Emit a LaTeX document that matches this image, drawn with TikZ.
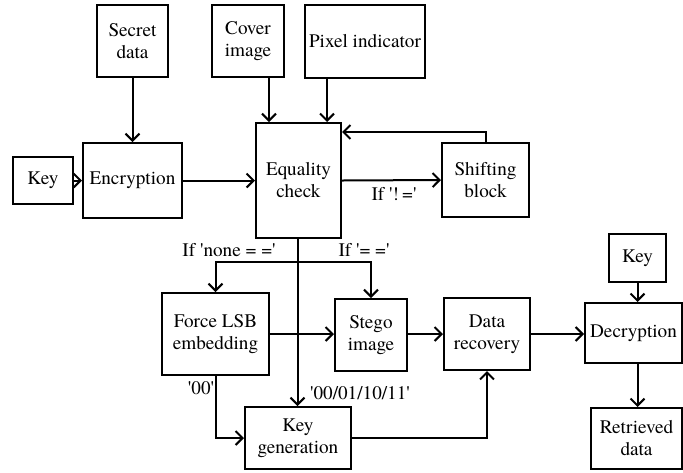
\documentclass[tikz,border=0pt]{standalone}
\usepackage{fontspec}
\IfFontExistsTF{texgyretermes-regular.otf}{\setmainfont{texgyretermes-regular.otf}}{\setmainfont{Liberation Serif}}
\usetikzlibrary{arrows.meta,calc}
\newcommand\sq{\textquotesingle}
\begin{document}
\begin{tikzpicture}[x=0.5pt,y=-0.5pt,
  font=\rmfamily\fontsize{9.6}{11}\selectfont,
  box/.style={draw, line width=1pt, align=center, inner sep=0pt},
  arr/.style={line width=1pt, -{Straight Barb[length=3.5pt,width=7pt]}},
  lbl/.style={inner sep=0pt}]
\useasboundingbox (0,0) rectangle (683,472);
% boxes
\node[box,minimum width=35.5pt,minimum height=36pt] (secret) at (132.5,41) {Secret\\data};
\node[box,minimum width=36pt,minimum height=36pt] (cover) at (248,41) {Cover\\image};
\node[box,minimum width=60pt,minimum height=36.5pt] (pixel) at (365,41.5) {Pixel indicator};
\node[box,minimum width=30pt,minimum height=23.5pt] (keyL) at (43,180.5) {Key};
\node[box,minimum width=49.5pt,minimum height=37.5pt] (enc) at (132.5,180.5) {Encryption};
\node[box,minimum width=42.5pt,minimum height=57.5pt] (eq) at (298.5,180.5) {Equality\\check};
\node[box,minimum width=43.5pt,minimum height=37pt] (shift) at (485.5,180) {Shifting\\block};
\node[box,minimum width=53.5pt,minimum height=41pt] (force) at (215.5,334) {Force LSB\\embedding};
\node[box,minimum width=36pt,minimum height=36pt] (stego) at (371,335) {Stego\\image};
\node[box,minimum width=43pt,minimum height=36pt] (datarec) at (487,334) {Data\\recovery};
\node[box,minimum width=53pt,minimum height=31pt] (keygen) at (298,438) {Key\\generation};
\node[box,minimum width=28.5pt,minimum height=24pt] (keyR) at (637.5,258) {Key};
\node[box,minimum width=48.5pt,minimum height=30pt] (dec) at (633.5,333) {Decryption};
\node[box,minimum width=45.5pt,minimum height=30.5pt] (retr) at (636.5,438.5) {Retrieved\\data};
% labels
\node[lbl] (lne) at (394,194) {If \sq!\,=\sq};
\node[lbl] (lnone) at (229,250) {If \sq none = =\sq};
\node[lbl] (leq) at (364,250) {If \sq= =\sq};
\node[lbl] (l00) at (201,388) {\sq 00\sq};
\node[lbl] (lall) at (360,393) {\sq 00/01/10/11\sq};
% helper coordinates
\coordinate (br) at (297.5,262);
\coordinate (cvx) at ($(cover.south)+(21,0)$);
\coordinate (pxx) at ($(pixel.south)+(-38,0)$);
\coordinate (fb) at ($(eq.north east)+(0,10)$);
% connectors
\draw[arr] (secret.south) -- (enc.north);
\draw[arr] (keyL.east) -- (enc.west);
\draw[arr] (enc.east) -- (eq.west);
\draw[arr] (cvx) -- (cvx |- eq.north);
\draw[arr] (pxx) -- (pxx |- eq.north);
\draw[arr] (eq.east) -- (shift.west);
\draw[arr] (shift.north) |- (fb);
\draw[arr] (eq.south -| br) -- (keygen.north -| br);
\draw[arr] (br) -| (force.north);
\draw[arr] (br) -| (stego.north);
\draw[arr] (force.east) -- (force.east -| stego.west);
\draw[arr] (stego.east |- datarec.west) -- (datarec.west);
\draw[arr] (force.south) |- (keygen.west);
\draw[arr] (keygen.east) -| (datarec.south);
\draw[arr] (datarec.east) -- (dec.west |- datarec.east);
\draw[arr] (keyR.south) -- (keyR.south |- dec.north);
\draw[arr] (dec.south -| keyR.south) -- (retr.north -| keyR.south);
\end{tikzpicture}
\end{document}
